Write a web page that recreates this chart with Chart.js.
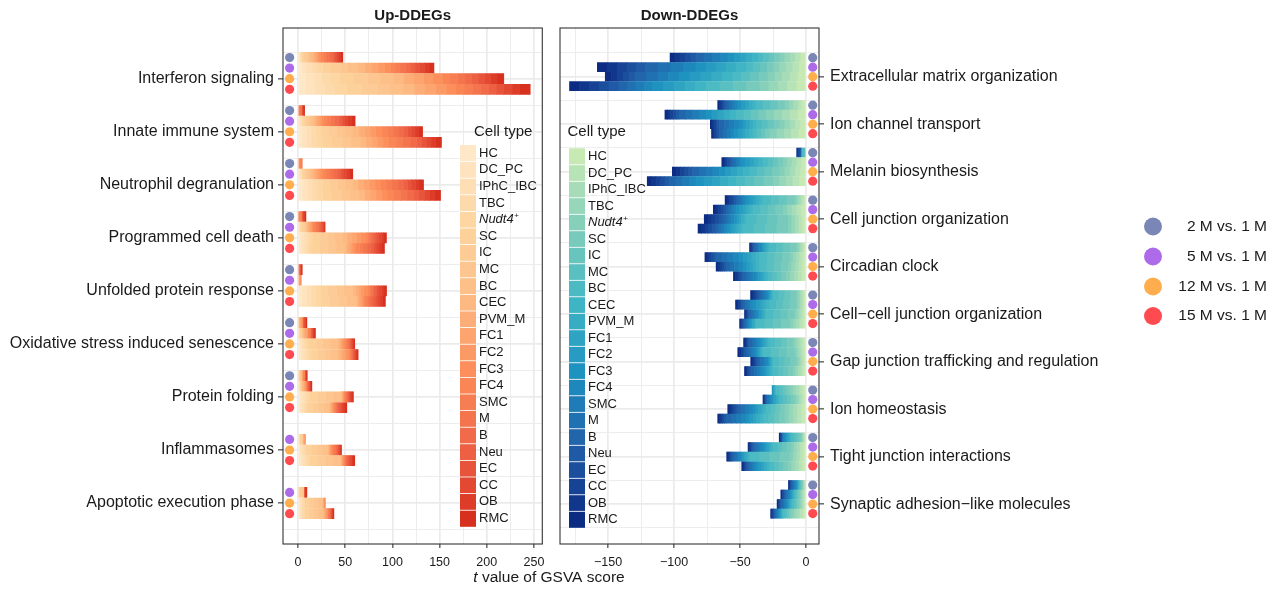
<!DOCTYPE html>
<html>
<head>
<meta charset="utf-8">
<title>GSVA t values by cell type</title>
<script src="https://cdn.jsdelivr.net/npm/chart.js@4.4.1/dist/chart.umd.min.js"></script>
<style>
  html, body { margin: 0; padding: 0; background: #fff; }
  #wrap { position: relative; width: 1283px; height: 593px; }
  #wrap canvas { position: absolute; left: 0; top: 0; }
</style>
</head>
<body>
<div id="wrap">
  <canvas id="upChart" width="1283" height="593"></canvas>
  <canvas id="downChart" width="1283" height="593"></canvas>
</div>
<script>
// ---- data ----
const cellTypes = ["HC", "DC_PC", "IPhC_IBC", "TBC", "Nudt4+", "SC", "IC", "MC", "BC", "CEC", "PVM_M",
  "FC1", "FC2", "FC3", "FC4", "SMC", "M", "B", "Neu", "EC", "CC", "OB", "RMC"];
const comparisons = ["2 M vs. 1 M", "5 M vs. 1 M", "12 M vs. 1 M", "15 M vs. 1 M"];

const upPathways = ["Interferon signaling", "Innate immune system", "Neutrophil degranulation",
  "Programmed cell death", "Unfolded protein response", "Oxidative stress induced senescence",
  "Protein folding", "Inflammasomes", "Apoptotic execution phase"];
const downPathways = ["Extracellular matrix organization", "Ion channel transport", "Melanin biosynthesis",
  "Cell junction organization", "Circadian clock", "Cell\u2212cell junction organization",
  "Gap junction trafficking and regulation", "Ion homeostasis", "Tight junction interactions",
  "Synaptic adhesion\u2212like molecules"];

const upGridTicks = [0, 25, 50, 75, 100, 125, 150, 175, 200, 225, 250];
const upTickLabels = [0, 50, 100, 150, 200, 250];
const downGridTicks = [-175, -150, -125, -100, -75, -50, -25, 0];
const downTickLabels = [-150, -100, -50, 0];

// t values per cell type (HC ... RMC), one row per comparison (2 M, 5 M, 12 M, 15 M); null = not significant
const upInterferon = [
  [1, 1, 0.5, 0.5, 1, 2, 3, 2, 2, 3, 2, 2, 2, 2, 3, 3, 4, 3, 2, 2, 2, 2, 2.5],
  [4, 5, 6, 5, 6, 9, 10, 8, 10, 8, 7, 7, 7, 6, 5, 5, 6, 5, 5, 5, 5, 5, 5],
  [8, 9, 8, 9, 10, 14, 16, 13, 14, 11, 10, 11, 10, 10, 8, 8, 8, 7, 7, 7, 6, 7, 7],
  [8, 10, 10, 11, 13, 15, 17, 13, 14, 12, 11, 12, 11, 10, 9, 9, 9, 8, 8, 8, 9, 8, 11]
];
const upInnate = [
  [0, 0, 0, 0, 0, 0, 0, 0, 0, 0, 0, 0, 0, 0, 0, 2, 2, 0, 0, 0, 1.5, 0, 1.5],
  [1, 1, 1.5, 1, 1.5, 2, 3, 2, 3, 2, 2, 2.5, 2.5, 2, 4, 4, 4, 4, 3, 3.5, 3.5, 4, 3.5],
  [4, 5, 5, 5, 5.5, 8, 9, 8, 8, 7, 6, 6, 6, 6.5, 6, 6, 6, 5, 4, 4, 4, 4, 4],
  [4, 5, 5, 6, 6, 10, 11, 9, 10, 6, 6, 6, 6, 6, 8, 7, 8, 7, 5, 5, 5, 5, 6]
];
const upNeutrophil = [
  [0, 0, 0, 0, 0, 0, 0, 0, 0, 0, 0, 0, 0, 1.5, 1.5, 1.5, 0, 0, 0, 0, 0, 0, 0],
  [1, 1, 1, 1, 1, 2, 2.5, 2, 2.5, 2, 2.5, 2.5, 2.5, 2.5, 4, 4, 4, 4, 3, 3, 3.5, 3, 3.5],
  [5, 5, 5, 5, 6, 8, 8, 7.5, 8, 6, 6, 6, 6, 6, 6, 6, 6.5, 6, 4, 4, 4.5, 4, 4.5],
  [5, 5, 5, 5, 6, 10, 10, 9, 9.5, 6, 6, 6, 6, 6, 7, 7, 7, 7, 5.5, 6, 5.5, 5.5, 6]
];
const upCellDeath = [
  [0, 0, 0, 0, 0, 0, 0, 0, 0, 0, 0, 0, 0, 1, 1.5, 1.5, 0, 0, 0, 1.5, 0, 1.4, 1.5],
  [1, 0, 1, 0, 1.5, 2, 1.5, 1.7, 0, 1.5, 1.5, 1.5, 1.2, 1.3, 2, 2, 2, 1.5, 1.5, 1.5, 1.5, 0, 1],
  [3, 3, 3, 3, 3.7, 8, 8, 7.5, 8, 5, 5, 5, 4.5, 5, 2, 2, 2.5, 2.2, 2.5, 2.5, 3, 2.5, 2.8],
  [2.5, 3, 3, 2.5, 3, 9, 9, 8, 9, 2.5, 2.5, 2.5, 2.4, 2.3, 4, 4, 4, 3.7, 3, 3, 3, 2.7, 3]
];
const upUnfolded = [
  [0, 0, 0, 0, 0, 0, 0, 0, 0, 0, 0, 0, 0, 0, 0, 0, 1.5, 0, 0, 1.5, 0, 0, 1.5],
  [0, 0, 0, 0, 0, 0, 0, 0, 0, 0, 0, 1.5, 0, 2, 0, 0, 0, 0, 0, 0, 0, 0, 0],
  [4, 5, 5, 5, 4.8, 8, 9, 8, 9, 3, 3, 3, 3, 3.7, 2, 1.5, 2, 1.5, 2.5, 2.5, 3, 2.5, 2.8],
  [4, 5, 5, 5, 5.5, 9, 10, 8.7, 9, 2, 1.5, 2, 1.5, 1.7, 2, 2, 2.5, 2.2, 3, 2.5, 3, 2.5, 3]
];
const upOxidative = [
  [0, 0, 0, 0, 0, 0, 0, 0, 0, 1.5, 0, 1.5, 1.2, 0, 1, 0, 0, 0, 0, 1.5, 1.2, 0, 1.5],
  [1, 0, 0, 0, 0, 1.5, 2, 0, 0, 1.5, 1.5, 1.5, 1.2, 0, 1.5, 1.5, 0, 0, 1, 1.3, 0, 1.5, 1.5],
  [2, 2, 2, 2, 2.5, 8, 8, 7.5, 8, 1.5, 1.5, 1.5, 1.5, 1.7, 1.3, 1.3, 1.3, 1.3, 1, 1, 1, 1, 1.2],
  [2.5, 3, 3, 2.5, 3, 7, 7, 7, 7, 2.5, 2.5, 2.5, 2.4, 2.3, 1, 0.8, 1, 0.7, 1.2, 1.2, 1.2, 1.2, 1.2]
];
const upFolding = [
  [0, 0, 0, 0, 0, 1.5, 0, 2, 0, 0, 0, 1.5, 0, 0, 2, 0, 0, 0, 0, 1.4, 0, 0, 1.4],
  [1, 0, 0, 1, 0, 1.2, 0, 0, 1, 1.4, 0, 1.4, 1.4, 0, 0, 1.4, 0, 0, 1.2, 1.2, 0, 1.2, 1.3],
  [2.5, 2.5, 2.5, 2.2, 2.5, 8.5, 8.5, 8, 8.2, 0.7, 0.7, 0.7, 0.7, 0.7, 0.9, 0.9, 0.9, 0.8, 1.2, 1.2, 1.3, 1.3, 1.3],
  [2, 2, 2, 1.8, 2, 6, 6, 5.7, 5.7, 0.9, 0.9, 0.9, 0.9, 0.9, 1, 1, 1.1, 1.1, 2, 2, 1.9, 1.9, 2]
];
const upInflammasomes = [
  null,
  [1.2, 0, 0, 0, 0, 2, 2, 0, 0, 0, 0, 1.4, 1.4, 0, 0, 0, 0, 0, 0, 0, 0, 0, 0],
  [1.7, 1.7, 1.7, 1.8, 1.8, 6, 5.7, 5.5, 5.5, 0.8, 0.8, 0.9, 0.8, 0.9, 1.4, 1.4, 1.4, 1.4, 1, 1, 1, 0.9, 1],
  [2.5, 2.5, 2.4, 2.4, 2.4, 8, 8.5, 8, 8, 0.7, 0.7, 0.7, 0.7, 0.7, 0.9, 0.9, 0.9, 0.8, 1.7, 1.7, 1.7, 1.6, 1.7]
];
const upApoptotic = [
  null,
  [0, 0, 0, 0, 0, 2, 2.3, 2, 0, 0, 0, 0, 0, 0, 0, 0, 0, 0, 0, 0, 0, 1.5, 1.6],
  [1.4, 1.4, 1.4, 1.4, 1.4, 5, 5, 4.6, 4.6, 0, 0, 1.4, 0, 0, 1.4, 0, 0, 0, 0, 0, 0, 0, 0],
  [1.4, 1.4, 1.4, 1.4, 1.4, 5, 5, 4.6, 4.6, 1, 1, 1, 1.2, 1, 0, 1.5, 0, 1.5, 0, 1.8, 0, 0, 1.8]
];

const downECM = [
  [-4, -4, -4, -4, -3.8, -4, -4, -4.5, -4, -4.5, -4.5, -4.6, -4.6, -4.7, -6, -6, -6.2, -6, -4, -4, -4, -4, -3.6],
  [-5, -5, -5, -5, -4.4, -5, -5, -5.5, -5.4, -7.6, -7.6, -7.6, -7.7, -7.7, -9.5, -9.5, -9.6, -9.6, -7, -7, -7.5, -7.4, -7.5],
  [-6, -6, -6, -5.4, -5.4, -6.7, -6.7, -6.6, -6.7, -8, -8, -8.2, -8.2, -8.3, -8, -8, -8.5, -8.5, -4.5, -4.5, -4.6, -4.6, -4.7],
  [-7, -7, -7, -7, -7, -10, -10, -10.2, -10.5, -8, -8, -8.2, -8.2, -8.3, -6.3, -6.3, -6.4, -6.4, -7.5, -7.5, -7.4, -7.5, -7.5]
];
const downIonChannel = [
  [-3, -3, -3.5, -3, -3.5, -5.4, -5.4, -5.4, -5.4, -2.8, -2.8, -2.8, -2.8, -2.8, -2.2, -2.2, -2.2, -2.3, -1.3, -1.3, -1.3, -1.3, -1.2],
  [-6, -6, -6, -6, -6, -5.7, -5.7, -5.7, -5.8, -4.6, -4.6, -4.6, -4.6, -4.5, -5.1, -5.1, -5.1, -5.1, -2.1, -2.1, -2.2, -2.1, -2.2],
  [-4, -4, -4, -4, -3.8, -4.5, -4.5, -4.4, -4.4, -2.5, -2.5, -2.5, -2.6, -2.6, -3.8, -3.8, -3.8, -3.9, -1.4, -1.4, -1.4, -1.4, -1.3],
  [-5.5, -5.5, -5.5, -5.5, -5.5, -3.2, -3.2, -3.2, -3.1, -2.8, -2.8, -2.8, -2.8, -2.8, -2.9, -2.9, -2.9, -2.8, -1.2, -1.2, -1.2, -1.2, -1.1]
];
const downMelanin = [
  [0, 0, 0, 0, 0, 0, 0, -1.5, -1.8, 0, 0, 0, 0, 0, 0, 0, 0, 0, -1, -1, -1, -0.8, 0],
  [-3.5, -3.5, -3.5, -3.4, -3.4, -3.8, -3.8, -3.8, -3.9, -3.3, -3.3, -3.3, -3.3, -3.3, -1.9, -1.9, -1.9, -1.9, -1.4, -1.4, -1.4, -1.4, -1.5],
  [-4, -4, -4, -4, -3.8, -5.7, -5.7, -5.7, -5.8, -4.6, -4.6, -4.6, -4.6, -4.5, -5.1, -5.1, -5.1, -5.1, -3, -3, -3.1, -3.1, -3.1],
  [-5, -5, -5, -5, -4.9, -7, -7, -7, -7, -6.1, -6.1, -6.1, -6.1, -6.1, -5.1, -5.1, -5.1, -5.1, -3.3, -3.3, -3.3, -3.3, -3.3]
];
const downCellJunction = [
  [-1.7, -1.7, -1.7, -1.7, -1.6, -6, -6, -6.1, -6.1, -2.5, -2.5, -2.5, -2.6, -2.6, -1.9, -1.9, -1.9, -1.9, -1.7, -1.7, -1.7, -1.7, -1.6],
  [-3.5, -3.5, -3.5, -3.4, -3.4, -5.7, -5.7, -5.7, -5.8, -2.5, -2.5, -2.5, -2.6, -2.6, -1.9, -1.9, -1.9, -1.9, -1.9, -1.9, -2, -1.9, -2],
  [-2.7, -2.7, -2.7, -2.7, -2.7, -8, -8, -7.9, -7.9, -1.8, -1.8, -1.8, -1.8, -1.7, -2.2, -2.2, -2.2, -2.3, -2.8, -2.8, -2.8, -2.8, -2.8],
  [-2.7, -2.7, -2.7, -2.7, -2.7, -8.6, -8.6, -8.6, -8.6, -2.3, -2.3, -2.3, -2.3, -2.3, -2.2, -2.2, -2.2, -2.3, -2.7, -2.7, -2.7, -2.7, -2.7]
];
const downCircadian = [
  [-1.4, -1.4, -1.4, -1.4, -1.5, -5.1, -5.1, -5.1, -5.1, -1.3, -1.3, -1.3, -1.3, -1.2, -1.3, -1.3, -1.3, -1.2, -0.8, -0.8, -0.8, -0.7, -0.7],
  [-2.4, -2.4, -2.4, -2.5, -2.5, -5.7, -5.7, -5.7, -5.8, -3, -3, -3.1, -3.1, -3.1, -4.5, -4.5, -4.4, -4.4, -1.7, -1.7, -1.7, -1.7, -1.6],
  [-2.7, -2.7, -2.7, -2.7, -2.7, -5.4, -5.4, -5.4, -5.4, -2.5, -2.5, -2.5, -2.6, -2.6, -3.2, -3.2, -3.2, -3.1, -1.5, -1.5, -1.5, -1.5, -1.6],
  [-3, -3, -3, -2.9, -2.9, -3.5, -3.5, -3.5, -3.5, -1.8, -1.8, -1.8, -1.8, -1.7, -2.5, -2.5, -2.6, -2.6, -1.4, -1.4, -1.4, -1.4, -1.5]
];
const downCellCell = [
  [-1.4, -1.4, -1.4, -1.4, -1.5, -4.5, -4.5, -4.4, -4.4, -0.8, -0.8, -0.8, -0.7, -0.7, -1.6, -1.6, -1.6, -1.6, -1.4, -1.4, -1.4, -1.4, -1.3],
  [-1.4, -1.4, -1.4, -1.4, -1.5, -5.1, -5.1, -5.1, -5.1, -2.5, -2.5, -2.5, -2.6, -2.6, -1.9, -1.9, -1.9, -1.9, -1.1, -1.1, -1.1, -1.1, -1.2],
  [-1.7, -1.7, -1.7, -1.7, -1.6, -5.4, -5.4, -5.4, -5.4, -1.3, -1.3, -1.3, -1.3, -1.2, -1.6, -1.6, -1.6, -1.6, -0.8, -0.8, -0.8, -0.7, -0.7],
  [-2.4, -2.4, -2.4, -2.5, -2.5, -6.3, -6.3, -6.4, -6.4, -1, -1, -1, -1, -1.1, -1, -1, -0.9, -0.9, -0.8, -0.8, -0.8, -0.7, -0.7]
];
const downGapJunction = [
  [-1.9, -1.9, -2, -1.9, -2, -4.5, -4.5, -4.4, -4.4, -1.5, -1.5, -1.5, -1.5, -1.6, -1.9, -1.9, -1.9, -1.9, -0.9, -0.9, -0.9, -0.9, -1],
  [-1.7, -1.7, -1.7, -1.7, -1.6, -6, -6, -6.1, -6.1, -1, -1, -1, -1, -1.1, -1.9, -1.9, -1.9, -1.9, -1.3, -1.3, -1.3, -1.3, -1.2],
  [-1.4, -1.4, -1.4, -1.4, -1.5, -4.5, -4.5, -4.4, -4.4, -0.8, -0.8, -0.8, -0.7, -0.7, -1.9, -1.9, -1.9, -1.9, -1.1, -1.1, -1.1, -1.1, -1.2],
  [-1.9, -1.9, -2, -1.9, -2, -3.8, -3.8, -3.8, -3.9, -1.5, -1.5, -1.5, -1.5, -1.6, -2.2, -2.2, -2.2, -2.3, -1, -1, -1, -1, -1.1]
];
const downIonHomeostasis = [
  [-2.4, -2.4, -2.4, -2.5, -2.5, -2.5, -2.5, -2.6, -2.6, -0.7, -0.7, -0.7, -0.6, -0.6, 0, 0, 0, 0, 0, 0, 0, 0, 0],
  [-1.7, -1.7, -1.7, -1.7, -1.6, -2.9, -2.9, -2.9, -2.8, -1.3, -1.3, -1.3, -1.3, -1.2, -1, -1, -0.9, -0.9, -0.5, -0.5, -0.5, -0.5, -0.5],
  [-3.2, -3.2, -3.2, -3.2, -3.2, -3.5, -3.5, -3.5, -3.5, -2, -2, -2, -2.1, -2.1, -2.9, -2.9, -2.9, -2.8, -1.5, -1.5, -1.5, -1.5, -1.6],
  [-3.2, -3.2, -3.2, -3.2, -3.2, -4.1, -4.1, -4.1, -4.2, -2.5, -2.5, -2.5, -2.6, -2.6, -3.8, -3.8, -3.8, -3.9, -1.3, -1.3, -1.3, -1.3, -1.2]
];
const downTightJunction = [
  [-0.7, -0.7, -0.7, -0.6, -0.6, -1.9, -1.9, -1.9, -1.9, -1, -1, -1, -1, -1.1, -1, 0, -1.1, 0, 0, -1.1, 0, 0, -1.1],
  [-2.2, -2.2, -2.2, -2.2, -2.1, -3.5, -3.5, -3.5, -3.5, -1.5, -1.5, -1.5, -1.5, -1.6, -1.9, -1.9, -1.9, -1.9, -0.8, -0.8, -0.8, -0.7, -0.7],
  [-2.4, -2.4, -2.4, -2.5, -2.5, -7.6, -7.6, -7.6, -7.7, -1.3, -1.3, -1.3, -1.3, -1.2, -1.6, -1.6, -1.6, -1.6, -0.9, -0.9, -0.9, -0.9, -1],
  [-2.7, -2.7, -2.7, -2.7, -2.7, -3.5, -3.5, -3.5, -3.5, -2, -2, -2, -2.1, -2.1, -1.6, -1.6, -1.6, -1.6, -0.9, -0.9, -0.9, -0.9, -1]
];
const downSynaptic = [
  [-0.5, -0.5, -0.5, -0.5, -0.5, -0.6, -0.6, -0.6, -0.7, -0.4, -0.4, -0.4, -0.4, -0.4, -1, -1, -0.9, -0.9, -0.5, -0.5, -0.5, -0.5, -0.5],
  [-0.9, -0.9, -0.9, -0.9, -1, -1, -1, -0.9, -0.9, -0.7, -0.7, -0.7, -0.6, -0.6, -1.1, -1.1, -1.1, -1, -0.6, -0.6, -0.6, -0.6, -0.7],
  [-1, -1, -1, -1, -1.1, -1.3, -1.3, -1.3, -1.2, -0.8, -0.8, -0.8, -0.8, -0.9, -1.1, -1.1, -1.1, -1, -0.7, -0.7, -0.7, -0.6, -0.6],
  [-2.2, -2.2, -2.2, -2.2, -2.1, -1.6, -1.6, -1.6, -1.6, -0.6, -0.6, -0.6, -0.6, -0.7, -0.8, -0.8, -0.8, -0.9, -0.6, -0.6, -0.6, -0.6, -0.7]
];

const upValues = [upInterferon, upInnate, upNeutrophil, upCellDeath, upUnfolded, upOxidative,
  upFolding, upInflammasomes, upApoptotic];
const downValues = [downECM, downIonChannel, downMelanin, downCellJunction, downCircadian, downCellCell,
  downGapJunction, downIonHomeostasis, downTightJunction, downSynaptic];

// ---- styling ----
const FONT = "'Liberation Sans', Arial, Helvetica, sans-serif";
const TEXT = '#1a1a1a';
const GRID = '#EBEBEB';
const FRAME = '#333333';
const comparisonColors = ['#7A87B6', '#AD6BEA', '#FFAD4D', '#FF4B50'];

Chart.defaults.font.family = FONT;
Chart.defaults.color = TEXT;

// linear RGB ramp between anchor colours, like colorRampPalette
function ramp(anchors, n) {
  const rgb = anchors.map(h => [1, 3, 5].map(i => parseInt(h.slice(i, i + 2), 16)));
  const out = [];
  for (let k = 0; k < n; k++) {
    const t = k / (n - 1) * (rgb.length - 1);
    const i = Math.min(Math.floor(t), rgb.length - 2);
    const f = t - i;
    const c = rgb[i].map((v, j) => Math.round(v + (rgb[i + 1][j] - v) * f));
    out.push('rgb(' + c.join(',') + ')');
  }
  return out;
}
const upPalette = ramp(['#FEE8C8', '#FDD49E', '#FDBB84', '#FC8D59', '#EF6548', '#D7301F'], cellTypes.length);
const downPalette = ramp(['#C7E9B4', '#7FCDBB', '#41B6C4', '#1D91C0', '#225EA8', '#0C2C84'], cellTypes.length);

const minusFmt = v => (v < 0 ? '\u2212' + Math.abs(v) : String(v));

// one bar dataset per cell type, stacked; plus one dot series marking the comparison
function buildDatasets(values, palette, dotX, barH) {
  const sets = cellTypes.map((ct, i) => ({
    type: 'bar', label: ct, data: [], backgroundColor: palette[i],
    borderWidth: 0, barThickness: barH, stack: 'cells'
  }));
  const dots = {
    type: 'scatter', label: 'comparison', data: [], stack: 'dots',
    pointBackgroundColor: [], pointBorderWidth: 0, pointRadius: 4.6
  };
  values.forEach((rows, p) => {
    rows.forEach((row, c) => {
      if (!row) return;
      const slot = p * 5 + c;
      row.forEach((v, i) => { if (v !== 0) sets[i].data.push({ x: v, y: slot }); });
      dots.data.push({ x: dotX, y: slot });
      dots.pointBackgroundColor.push(comparisonColors[c]);
    });
  });
  return [...sets, dots];
}

function drawCellLegend(ctx, lg, palette) {
  ctx.textAlign = 'left';
  ctx.textBaseline = 'middle';
  ctx.fillStyle = TEXT;
  ctx.font = '15px ' + FONT;
  ctx.fillText('Cell type', lg.titleX, lg.titleY);
  cellTypes.forEach((ct, i) => {
    const y = lg.y + i * lg.h;
    ctx.fillStyle = palette[i];
    ctx.fillRect(lg.x, y, lg.w, lg.h);
    ctx.fillStyle = '#fff';
    if (i > 0) ctx.fillRect(lg.x, y - 0.4, lg.w, 0.8);
    ctx.fillStyle = TEXT;
    const tx = lg.x + lg.w + 3, ty = y + lg.h / 2;
    if (ct === 'Nudt4+') {
      ctx.font = 'italic 13px ' + FONT;
      ctx.fillText('Nudt4', tx, ty);
      const w = ctx.measureText('Nudt4').width;
      ctx.font = '8px ' + FONT;
      ctx.fillText('+', tx + w + 0.5, ty - 4);
    } else {
      ctx.font = '13px ' + FONT;
      ctx.fillText(ct, tx, ty);
    }
  });
}

function decor(title, palette, legendBox, extra) {
  return {
    id: 'decor',
    afterDraw(chart) {
      const { ctx, chartArea: a } = chart;
      ctx.save();
      ctx.strokeStyle = FRAME;
      ctx.lineWidth = 1.1;
      ctx.strokeRect(a.left, a.top, a.right - a.left, a.bottom - a.top);
      ctx.fillStyle = TEXT;
      ctx.font = 'bold 15px ' + FONT;
      ctx.textAlign = 'center';
      ctx.textBaseline = 'middle';
      ctx.fillText(title, (a.left + a.right) / 2, 16);
      drawCellLegend(ctx, legendBox, palette);
      if (extra) extra(ctx);
      ctx.restore();
    }
  };
}

function makePanel(canvasId, p) {
  const yTicks = [];
  for (let i = 0; i <= p.pathways.length; i++) {
    yTicks.push(i * 5 - 0.5);
    if (i < p.pathways.length) yTicks.push(i * 5 + 2);
  }
  const isMajorY = v => (v - 2) % 5 === 0;
  const isMajorX = v => p.labels.includes(v);

  return new Chart(document.getElementById(canvasId), {
    data: { datasets: buildDatasets(p.values, p.palette, p.dotX, p.barH) },
    plugins: [decor(p.title, p.palette, p.legend, p.extra)],
    options: {
      indexAxis: 'y',
      responsive: false,
      animation: false,
      events: [],
      devicePixelRatio: 1,
      layout: { padding: p.padding },
      plugins: { legend: { display: false }, tooltip: { enabled: false } },
      scales: {
        x: {
          type: 'linear', min: p.xMin, max: p.xMax, stacked: true, offset: false,
          afterBuildTicks: s => { s.ticks = p.grid.map(v => ({ value: v })); },
          afterFit: s => { s.height = 49; },
          ticks: {
            autoSkip: false, maxRotation: 0, padding: 7, color: TEXT, font: { size: 12.5 },
            callback: v => (isMajorX(v) ? minusFmt(v) : '')
          },
          grid: {
            offset: false,
            color: GRID,
            lineWidth: c => (c.tick && isMajorX(c.tick.value) ? 1.7 : 0.9),
            tickColor: c => (c.tick && isMajorX(c.tick.value) ? FRAME : 'rgba(0,0,0,0)'),
            tickLength: 4, tickWidth: 1.1
          },
          border: { display: false }
        },
        y: {
          type: 'linear', position: p.side, reverse: true, min: p.yMin, max: p.yMax, offset: false,
          afterBuildTicks: s => { s.ticks = yTicks.map(v => ({ value: v })); },
          afterFit: s => { s.width = p.yWidth; },
          ticks: {
            autoSkip: false, padding: p.labelPad, color: TEXT, font: { size: 16 },
            callback: v => (isMajorY(v) ? p.pathways[(v - 2) / 5] : '')
          },
          grid: {
            offset: false,
            color: GRID,
            lineWidth: c => (c.tick && isMajorY(c.tick.value) ? 1.7 : 0.9),
            tickColor: c => (c.tick && isMajorY(c.tick.value) ? FRAME : 'rgba(0,0,0,0)'),
            tickLength: 5, tickWidth: 1.1
          },
          border: { display: false }
        }
      }
    }
  });
}

// shared x title under both panels
function drawXTitle(ctx) {
  ctx.fillStyle = TEXT;
  ctx.textBaseline = 'middle';
  ctx.textAlign = 'left';
  ctx.font = 'italic 15.5px ' + FONT;
  const wt = ctx.measureText('t').width;
  ctx.font = '15.5px ' + FONT;
  const rest = ' value of GSVA score';
  const wr = ctx.measureText(rest).width;
  const x0 = 549 - (wt + wr) / 2;
  ctx.font = 'italic 15.5px ' + FONT;
  ctx.fillText('t', x0, 578);
  ctx.font = '15.5px ' + FONT;
  ctx.fillText(rest, x0 + wt, 578);
}

// comparison key on the far right
function drawComparisonKey(ctx) {
  const rows = [226.5, 256.5, 286.5, 316];
  ctx.textBaseline = 'middle';
  ctx.textAlign = 'right';
  ctx.font = '15.5px ' + FONT;
  comparisons.forEach((c, i) => {
    ctx.fillStyle = comparisonColors[i];
    ctx.beginPath();
    ctx.arc(1153, rows[i], 9, 0, Math.PI * 2);
    ctx.fill();
    ctx.fillStyle = TEXT;
    ctx.fillText(c, 1267, rows[i]);
  });
}

makePanel('upChart', {
  title: 'Up-DDEGs', pathways: upPathways, values: upValues, palette: upPalette,
  xMin: -15.9, xMax: 258.8, grid: upGridTicks, labels: upTickLabels,
  yMin: -2.78, yMax: 45.86, side: 'left', yWidth: 283, barH: 10.1, dotX: -8.9, labelPad: 4,
  padding: { left: 0, right: 740.7, top: 28, bottom: 0 },
  legend: { x: 460, y: 145, w: 16, h: 16.6, titleX: 474, titleY: 132 },
  extra: drawXTitle
});

makePanel('downChart', {
  title: 'Down-DDEGs', pathways: downPathways, values: downValues, palette: downPalette,
  xMin: -186.4, xMax: 9.85, grid: downGridTicks, labels: downTickLabels,
  yMin: -3.12, yMax: 51.2, side: 'right', yWidth: 300, barH: 9.1, dotX: 5.1, labelPad: 6,
  padding: { left: 560, right: 164, top: 28, bottom: 0 },
  legend: { x: 569, y: 148.3, w: 16, h: 16.5, titleX: 567.5, titleY: 132 },
  extra: drawComparisonKey
});
</script>
</body>
</html>
